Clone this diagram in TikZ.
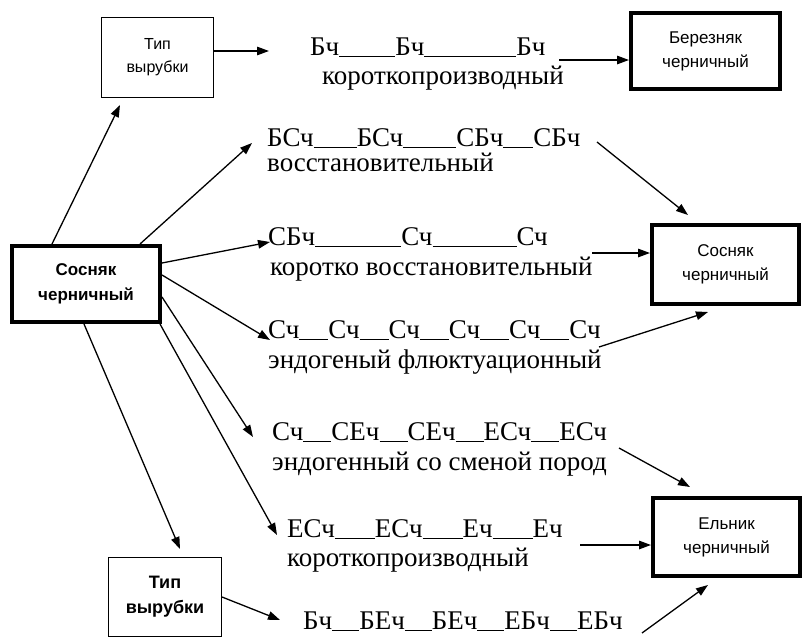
\documentclass[tikz,border=0pt]{standalone}
\usepackage{fontspec}
\setmainfont{Liberation Serif}
\newfontfamily\boxsans{Liberation Sans}
\usetikzlibrary{arrows.meta,calc}
\newcommand\gp[1]{\rule[-2pt]{#1pt}{1.2pt}}
\begin{document}
\begin{tikzpicture}[x=1pt,y=-1pt,
  rowtext/.style={anchor=base west, inner sep=0pt, font=\fontsize{27}{30}\selectfont},
  thinbox/.style={draw, line width=1.4pt, inner sep=0pt, align=center},
  thickbox/.style={draw, line width=3.6pt, inner sep=0pt, align=center},
  boxreg/.style={font=\boxsans\fontsize{17}{24}\selectfont},
  boxbold/.style={font=\boxsans\bfseries\fontsize{17}{25}\selectfont},
  arr/.style={-{Triangle[length=12pt,width=8.5pt]}, line width=1.3pt}]
\useasboundingbox (0,0) rectangle (804,637);
% boxes
\node[thinbox, boxreg, minimum width=111.6pt, minimum height=79.6pt, font=\boxsans\fontsize{16}{23}\selectfont] (T1) at (157.5,57.5) {Тип\\вырубки};
\node[thickbox, boxreg, minimum width=149.4pt, minimum height=76.4pt] (B) at (705.5,51) {Березняк\\черничный};
\node[thickbox, boxbold, minimum width=148.4pt, minimum height=76.4pt] (L) at (86,284) {Сосняк\\черничный};
\node[thickbox, boxreg, minimum width=147.4pt, minimum height=79.4pt] (S) at (725.5,264.5) {Сосняк\\черничный};
\node[thickbox, boxreg, minimum width=147.4pt, minimum height=78.4pt] (E) at (726.5,537) {Ельник\\черничный};
\node[thinbox, boxbold, minimum width=112.6pt, minimum height=78.6pt, font=\boxsans\bfseries\fontsize{18}{25}\selectfont] (T2) at (165,597) {Тип\\вырубки};
% rows
\node[rowtext] (r1a) at (310,55) {Бч\gp{56}Бч\gp{92}Бч};
\node[rowtext] (r1b) at (322,84) {короткопроизводный};
\node[rowtext] (r2a) at (267,146) {БСч\gp{43}БСч\gp{53}СБч\gp{30}СБч};
\node[rowtext] (r2b) at (267,171) {восстановительный};
\node[rowtext] (r3a) at (268,245) {СБч\gp{86}Сч\gp{84}Сч};
\node[rowtext] (r3b) at (270,275) {коротко восстановительный};
\node[rowtext] (r4a) at (268,338) {Сч\gp{29}Сч\gp{29}Сч\gp{29}Сч\gp{29}Сч\gp{29}Сч};
\node[rowtext] (r4b) at (268,368) {эндогеный флюктуационный};
\node[rowtext] (r5a) at (272,440) {Сч\gp{28}СЕч\gp{28}СЕч\gp{28}ЕСч\gp{28}ЕСч};
\node[rowtext] (r5b) at (272,470) {эндогенный со сменой пород};
\node[rowtext] (r6a) at (287,537) {ЕСч\gp{40}ЕСч\gp{40}Еч\gp{40}Еч};
\node[rowtext] (r6b) at (287,566) {короткопроизводный};
\node[rowtext] (r7a) at (303,629) {Бч\gp{27}БЕч\gp{27}БЕч\gp{27}ЕБч\gp{27}ЕБч};
% arrows
\draw[arr] ($(L.north west)+(42,0)$) -- ($(T1.south west)+(19,7)$);
\draw[arr] ($(L.north west)+(130,0)$) -- ($(r2a.base west)+(-15,-3)$);
\draw[arr] ($(L.north east)+(0,19)$) -- ($(r3a.base west)+(2,-3)$);
\draw[arr] ($(L.north east)+(0,31)$) -- ($(r4a.base west)+(2,2)$);
\draw[arr] ($(L.north east)+(0,53)$) -- ($(r5a.base west)+(-19,-3)$);
\draw[arr] ($(L.south east)+(-2,0)$) -- ($(r6a.base west)+(-10,-2)$);
\draw[arr] ($(L.south west)+(74,0)$) -- ($(T2.north west)+(72,-8)$);
\draw[arr] ($(T1.east)+(0,-6.5)$) -- ($(r1a.base west)+(-41,-4)$);
\draw[arr] ($(r1a.base west)+(249,5)$) -- ($(B.west)+(0,9)$);
\draw[arr] ($(r2a.base west)+(330,-4)$) -- ($(S.north west)+(38,-8)$);
\draw[arr] ($(r3a.base west)+(324,8)$) -- ($(S.west)+(0,-11.5)$);
\draw[arr] ($(r4a.base west)+(331,9)$) -- ($(S.south west)+(58,6)$);
\draw[arr] ($(r5a.base west)+(347,8)$) -- ($(E.north west)+(39,-9)$);
\draw[arr] ($(r6a.base west)+(293,8)$) -- ($(E.west)+(0,8)$);
\draw[arr] (T2.east) -- ($(r7a.base west)+(-23,-9)$);
\draw[arr] ($(r7a.base west)+(339,4)$) -- ($(E.south west)+(57,7)$);
\end{tikzpicture}
\end{document}
